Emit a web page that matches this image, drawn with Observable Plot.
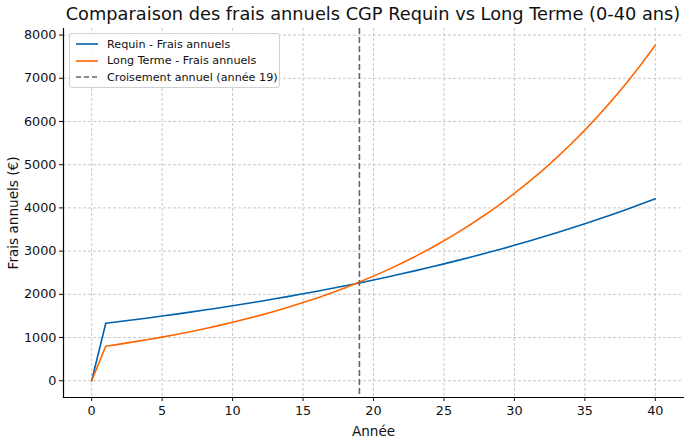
<!DOCTYPE html>
<html>
<head>
<meta charset="utf-8">
<script src="https://cdn.jsdelivr.net/npm/d3@7"></script>
<script src="https://cdn.jsdelivr.net/npm/@observablehq/plot@0.6"></script>
<style>
  body { margin: 0; background: #fff; font-family: "DejaVu Sans", sans-serif; }
  #wrap { position: relative; width: 690px; height: 439px; }
  #title { position: absolute; left: 53px; width: 640px; top: 3px; text-align: center; font-size: 17.8px; color: #111; white-space: nowrap; }
  #chart { position: absolute; left: 0; top: 26px; }
  #legend { position: absolute; left: 69px; top: 33px; width: 209px; height: 53px; border: 1px solid #d0d0d0; border-radius: 3px; background: rgba(255,255,255,0.85); font-size: 11.2px; color: #111; }
  .row { position: absolute; left: 6px; height: 14px; display: flex; align-items: center; white-space: nowrap; }
  .row svg { margin-right: 9px; flex: none; }
</style>
</head>
<body>
<div id="wrap">
  <div id="title">Comparaison des frais annuels CGP Requin vs Long Terme (0-40 ans)</div>
  <div id="chart"></div>
  <div id="legend"></div>
</div>
<script>
const years = d3.range(0, 41);
const requin = [0, 1330, 1370, 1411, 1453, 1497, 1542, 1588, 1636, 1685, 1735, 1787, 1841, 1896, 1953, 2012, 2072, 2134, 2198, 2264, 2332, 2402, 2474, 2548, 2625, 2704, 2785, 2868, 2954, 3043, 3134, 3228, 3325, 3425, 3528, 3633, 3742, 3855, 3970, 4089, 4212];
const longTerme = [0, 800, 848, 899, 953, 1010, 1071, 1135, 1203, 1275, 1352, 1433, 1519, 1610, 1706, 1809, 1917, 2032, 2154, 2283, 2421, 2566, 2720, 2883, 3056, 3239, 3434, 3640, 3858, 4089, 4335, 4595, 4870, 5163, 5473, 5801, 6149, 6518, 6909, 7323, 7763];
const crossYear = 19;
const seriesNames = ["Requin - Frais annuels", "Long Terme - Frais annuels", "Croisement annuel (année 19)"];
const xTicks = [0, 5, 10, 15, 20, 25, 30, 35, 40];
const yTicks = [0, 1000, 2000, 3000, 4000, 5000, 6000, 7000, 8000];

const colors = { requin: "#0061ad", long: "#ff6600", cross: "#666666" };
const dataR = years.map((y, i) => ({ year: y, v: requin[i] }));
const dataL = years.map((y, i) => ({ year: y, v: longTerme[i] }));

const chart = Plot.plot({
  width: 690,
  height: 413,
  marginTop: 2,
  marginBottom: 42,
  marginLeft: 63,
  marginRight: 7,
  style: { fontFamily: "DejaVu Sans, sans-serif", fontSize: "12.8px", color: "#111" },
  x: { domain: [-2, 42] },
  y: { domain: [-388, 8152] },
  marks: [
    Plot.gridX(xTicks, { stroke: "#bbb", strokeOpacity: 1, strokeDasharray: "3,2", strokeWidth: 0.8 }),
    Plot.gridY(yTicks, { stroke: "#bbb", strokeOpacity: 1, strokeDasharray: "3,2", strokeWidth: 0.8 }),
    Plot.axisX(xTicks, { tickSize: 4, tickPadding: 4, fontSize: 12.8, label: "Année", labelAnchor: "center", labelArrow: "none", labelOffset: 38 }),
    Plot.axisY(yTicks, { tickSize: 4, tickPadding: 3, fontSize: 12.8, tickFormat: d => String(d), label: "Frais annuels (€)", labelAnchor: "center", labelArrow: "none", labelOffset: 55 }),
    Plot.frame({ anchor: "left", stroke: "#000", strokeWidth: 1.2 }),
    Plot.frame({ anchor: "bottom", stroke: "#000", strokeWidth: 1.2 }),
    Plot.line(dataR, { x: "year", y: "v", stroke: colors.requin, strokeWidth: 1.6 }),
    Plot.line(dataL, { x: "year", y: "v", stroke: colors.long, strokeWidth: 1.6 }),
    Plot.ruleX([crossYear], { stroke: colors.cross, strokeWidth: 1.6, strokeDasharray: "6,3" })
  ]
});
d3.select(chart).selectAll('[aria-label="x-axis label"], [aria-label="y-axis label"]').attr("font-size", 13.6);
document.getElementById("chart").appendChild(chart);

const legend = document.getElementById("legend");
const legendStyles = [
  { c: colors.requin, dash: "" },
  { c: colors.long, dash: "" },
  { c: colors.cross, dash: "5,3" }
];
seriesNames.forEach((name, i) => {
  const row = document.createElement("div");
  row.className = "row";
  row.style.top = (3 + i * 16.5) + "px";
  row.innerHTML = `<svg width="22" height="10"><line x1="0" y1="5" x2="22" y2="5" stroke="${legendStyles[i].c}" stroke-width="1.6" ${legendStyles[i].dash ? `stroke-dasharray="${legendStyles[i].dash}"` : ""}/></svg><span>${name}</span>`;
  legend.appendChild(row);
});
</script>
</body>
</html>
